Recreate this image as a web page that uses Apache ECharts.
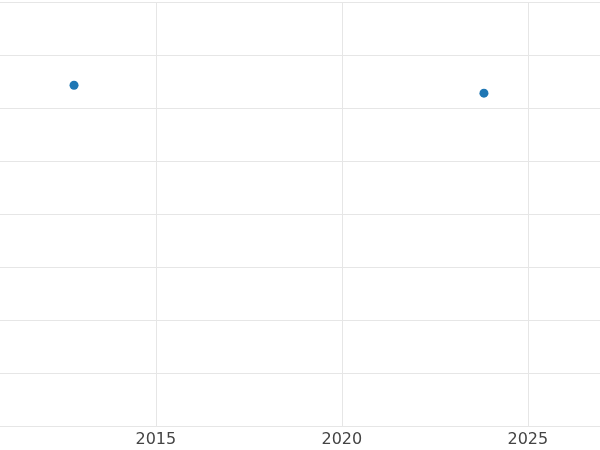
<!DOCTYPE html><html><head><meta charset="utf-8">
<script src="https://cdn.jsdelivr.net/npm/echarts@6/dist/echarts.min.js"></script>
<style>html,body{margin:0;padding:0}#c{width:600px;height:450px}</style></head><body><div id="c"></div>
<script>
const years=[2012.8,2023.82];
const values=[6.43,6.28];
const xTicks=[2015,2020,2025];
const chart=echarts.init(document.getElementById('c'));
chart.setOption({
  animation:false,
  grid:{left:0,right:0,top:2,bottom:24,containLabel:false},
  xAxis:{type:'value',min:2010.81,max:2026.94,
    axisLine:{show:false},axisTick:{show:false},
    axisLabel:{color:'#444',fontSize:16,fontFamily:'DejaVu Sans',margin:6,customValues:xTicks,formatter:v=>String(v)},
    splitLine:{show:false}},
  yAxis:{type:'value',min:0,max:8,interval:1,
    axisLine:{show:false},axisTick:{show:false},axisLabel:{show:false},
    splitLine:{lineStyle:{color:'#e6e6e6',width:1}}},
  series:[{type:'scatter',symbolSize:9,itemStyle:{color:'#1f77b4',opacity:1},
    data:years.map((y,i)=>[y,values[i]]),
    markLine:{silent:true,symbol:'none',label:{show:false},
      lineStyle:{color:'#e6e6e6',width:1,type:'solid'},
      data:xTicks.map(v=>({xAxis:v}))}}]
});
</script></body></html>
